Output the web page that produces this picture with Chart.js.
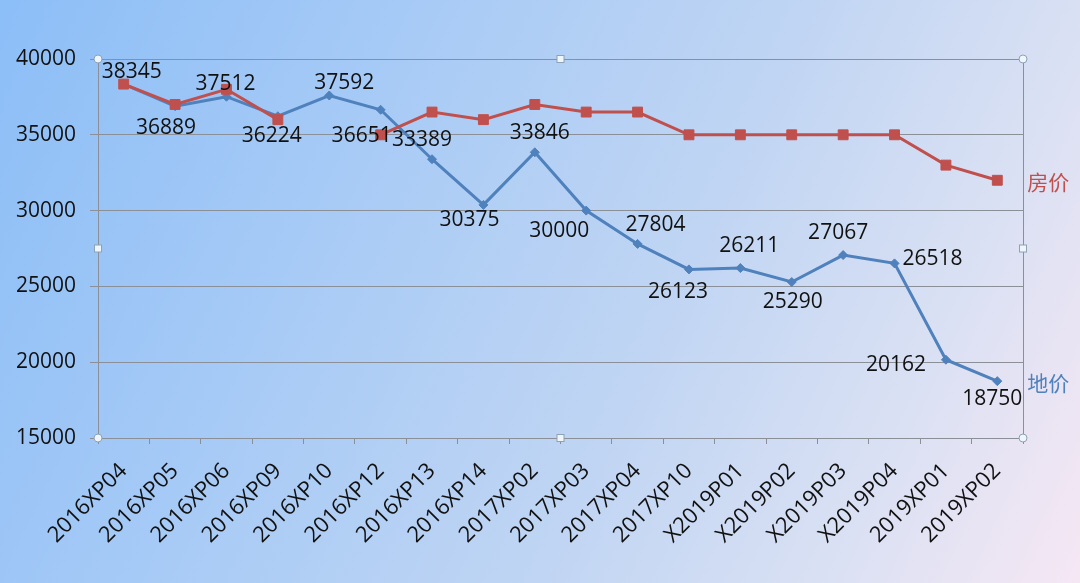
<!DOCTYPE html>
<html>
<head>
<meta charset="utf-8">
<script src="https://cdn.jsdelivr.net/npm/chart.js@4/dist/chart.umd.min.js"></script>
<style>
html,body{margin:0;padding:0;overflow:hidden;}
body{width:1080px;height:583px;background:linear-gradient(115deg,#8cbef7 0%,#a6caf6 30%,#c0d5f3 60%,#dbe1f3 82%,#f6e7f4 100%);}
#wrap{position:relative;width:1080px;height:583px;}
canvas{display:block;}
</style>
</head>
<body>
<div id="wrap"><canvas id="c" width="1080" height="583"></canvas></div>
<script>
// ---- data ----
const categories = ['2016XP04','2016XP05','2016XP06','2016XP09','2016XP10','2016XP12','2016XP13','2016XP14','2017XP02','2017XP03','2017XP04','2017XP10','X2019P01','X2019P02','X2019P03','X2019P04','2019XP01','2019XP02'];
const landPrice = [38345,36889,37512,36224,37592,36651,33389,30375,33846,30000,27804,26123,26211,25290,27067,26518,20162,18750];
const housePrice = [38345,37000,38000,36000,null,35000,36500,36000,37000,36500,36500,35000,35000,35000,35000,35000,33000,32000];
const yTickValues = [15000,20000,25000,30000,35000,40000];
const seriesNames = ['地价','房价'];

// ---- styling (not data) ----
const BLUE = '#4f81bd';
const RED = '#c0504d';
const TEXT = '#111111';
const FONT = "'Open Sans', 'Liberation Sans', sans-serif";
// label offsets (dx, dy) relative to each land-price point
const labelOffsets = [[8,-12],[-9,22],[-1,-13],[-6,20],[15,-12],[-19,26],[-10,-19],[-14,15],[5,-19],[-27,20],[18,-19],[-11,23],[9,-22],[1,20],[-5,-22],[38,-4],[-50,5],[-5,18]];

const valueLabels = {
  id: 'valueLabels',
  afterDatasetsDraw(chart) {
    const ctx = chart.ctx;
    const meta = chart.getDatasetMeta(0);
    ctx.save();
    ctx.font = "21px " + FONT;
    ctx.fillStyle = TEXT;
    ctx.textAlign = 'center';
    ctx.textBaseline = 'middle';
    meta.data.forEach((pt, i) => {
      const v = chart.data.datasets[0].data[i];
      if (v == null) return;
      const o = labelOffsets[i] || [0,-15];
      ctx.fillText(String(v), pt.x + o[0], pt.y + o[1]);
    });
    ctx.restore();
  }
};

const seriesTags = {
  id: 'seriesTags',
  afterDatasetsDraw(chart) {
    const ctx = chart.ctx;
    ctx.save();
    ctx.font = "21px 'Noto Sans CJK SC', sans-serif";
    ctx.textAlign = 'center';
    ctx.textBaseline = 'middle';
    chart.data.datasets.forEach((ds, di) => {
      const meta = chart.getDatasetMeta(di);
      const last = meta.data[meta.data.length - 1];
      ctx.fillStyle = ds.borderColor;
      ctx.fillText(ds.label, last.x + 51, last.y + 2);
    });
    ctx.restore();
  }
};

const frame = {
  id: 'frame',
  beforeDatasetsDraw(chart) {
    const {ctx, chartArea: a} = chart;
    ctx.save();
    ctx.strokeStyle = '#8a8f98';
    ctx.lineWidth = 1;
    ctx.beginPath();
    ctx.moveTo(Math.round(a.right) + 0.5, a.top);
    ctx.lineTo(Math.round(a.right) + 0.5, a.bottom);
    ctx.stroke();
    ctx.restore();
  },
  afterDraw(chart) {
    const {ctx, chartArea: a} = chart;
    const mx = (a.left + a.right) / 2, my = (a.top + a.bottom) / 2;
    ctx.save();
    ctx.fillStyle = '#eef6fb';
    ctx.strokeStyle = '#8da2b4';
    ctx.lineWidth = 1;
    [[a.left,a.top],[a.right,a.top],[a.left,a.bottom],[a.right,a.bottom]].forEach(([x,y]) => {
      ctx.beginPath(); ctx.arc(x, y, 4, 0, Math.PI*2); ctx.fill(); ctx.stroke();
    });
    [[mx,a.top],[mx,a.bottom],[a.left,my],[a.right,my]].forEach(([x,y]) => {
      ctx.fillRect(x-3.5, y-3.5, 7, 7); ctx.strokeRect(x-3.5, y-3.5, 7, 7);
    });
    ctx.restore();
  }
};

new Chart(document.getElementById('c'), {
  type: 'line',
  data: {
    labels: categories,
    datasets: [
      {
        label: seriesNames[0],
        data: landPrice,
        borderColor: BLUE,
        backgroundColor: BLUE,
        borderWidth: 3,
        pointStyle: 'rectRot',
        pointRadius: 4.5,
        pointBorderWidth: 1,
        tension: 0,
        order: 1
      },
      {
        label: seriesNames[1],
        data: housePrice,
        borderColor: RED,
        backgroundColor: RED,
        borderWidth: 3,
        pointStyle: 'rect',
        pointRadius: 7,
        pointBorderWidth: 1,
        spanGaps: false,
        tension: 0,
        order: 0
      }
    ]
  },
  options: {
    responsive: false,
    devicePixelRatio: 1,
    animation: false,
    layout: { padding: { top: 59, right: 57, left: 0, bottom: 0 } },
    plugins: { legend: { display: false }, tooltip: { enabled: false } },
    scales: {
      x: {
        offset: true,
        afterFit(s) { s.height = 145; },
        grid: { display: true, offset: true, drawOnChartArea: false, drawTicks: true, tickLength: 6, color: '#8a8f98' },
        border: { display: true, color: '#8a8f98', width: 1 },
        ticks: { color: TEXT, font: { family: FONT, size: 22 }, maxRotation: 45, minRotation: 45, autoSkip: false, padding: 14 }
      },
      y: {
        min: 15000,
        max: 40000,
        afterFit(s) { s.width = 98; },
        afterBuildTicks(s) { s.ticks = yTickValues.map(v => ({ value: v })); },
        grid: { color: '#8a8f98', tickLength: 8, lineWidth: 1 },
        border: { display: true, color: '#8a8f98', width: 1 },
        ticks: { color: TEXT, font: { family: FONT, size: 21 }, padding: 14, callback: v => String(v) }
      }
    }
  },
  plugins: [valueLabels, seriesTags, frame]
});
</script>
</body>
</html>
